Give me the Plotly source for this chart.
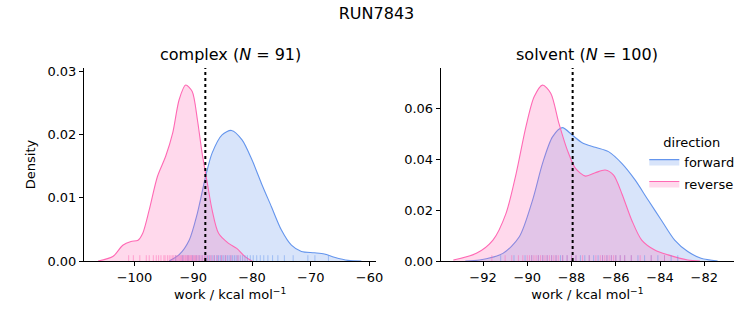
import plotly.graph_objects as go

# ---------------- data ----------------
directions = ["forward", "reverse"]
colors = {"forward": "#6495ED", "reverse": "#FF69B4"}
fills = {"forward": "rgba(100,149,237,0.25)", "reverse": "rgba(255,105,180,0.25)"}

# KDE curves (work in kcal/mol, density)
complex_fwd_x = [-94.1, -92.4, -90.7, -89.3, -87.9, -86.8, -85.1, -83.5, -81.7, -80.0, -78.4, -76.7,
                 -75.0, -73.3, -71.6, -69.4, -67.7, -66.0, -63.7, -61.4]
complex_fwd_d = [0.0, 0.001, 0.0033, 0.0076, 0.0134, 0.0171, 0.0200, 0.0207, 0.0192, 0.0160, 0.0123, 0.0086,
                 0.0049, 0.0025, 0.0015, 0.0013, 0.0011, 0.0006, 0.0001, 0.0]
complex_rev_x = [-106.2, -103.7, -102.0, -100.6, -99.4, -98.6, -97.5, -96.1, -94.7, -93.5, -92.4, -91.3,
                 -90.2, -89.3, -88.5, -87.6, -86.8, -85.7, -84.0, -82.6, -81.2, -80.0]
complex_rev_d = [0.0, 0.0007, 0.0025, 0.0031, 0.0033, 0.0044, 0.0081, 0.0134, 0.0166, 0.0203, 0.0256, 0.0279,
                 0.0269, 0.0224, 0.0171, 0.0123, 0.0081, 0.0044, 0.0028, 0.0020, 0.0007, 0.0]

solvent_fwd_x = [-92.8, -92.15, -91.1, -90.36, -89.76, -89.31, -88.86, -88.42, -87.97, -87.52, -86.93, -86.33,
                 -85.73, -85.13, -84.54, -83.94, -83.34, -82.75, -82.15, -81.4]
solvent_fwd_d = [0.0, 0.0004, 0.0030, 0.0095, 0.0239, 0.0383, 0.0487, 0.0523, 0.0494, 0.0464, 0.0446, 0.0429,
                 0.0383, 0.0318, 0.0239, 0.0160, 0.0082, 0.0037, 0.0011, 0.0]
solvent_rev_x = [-93.34, -92.3, -91.55, -90.96, -90.5, -90.06, -89.69, -89.31, -88.94, -88.57, -88.19, -87.82,
                 -87.37, -86.93, -86.48, -86.1, -85.73, -85.28, -84.83, -84.24, -83.64, -82.75, -82.2]
solvent_rev_d = [0.0004, 0.0030, 0.0082, 0.0187, 0.0344, 0.0527, 0.0644, 0.0690, 0.0658, 0.0540, 0.0435, 0.0363,
                 0.0333, 0.0346, 0.0357, 0.0337, 0.0265, 0.0160, 0.0082, 0.0043, 0.0024, 0.0004, 0.0]

# individual work values (rug)
complex_fwd_w = [-93.0, -91.8, -90.9, -90.1, -89.5, -89.0, -88.5, -88.0, -87.6, -87.2, -86.8, -86.4, -86.0,
                 -85.7, -85.4, -85.1, -84.8, -84.5, -84.2, -83.9, -83.6, -83.3, -83.0, -82.7, -82.4, -82.0,
                 -81.6, -81.2, -80.8, -80.3, -79.8, -79.2, -78.6, -78.0, -77.3, -76.5, -75.6, -74.5, -73.0,
                 -70.5, -69.3, -67.0]
complex_rev_w = [-101.0, -100.2, -99.1, -98.0, -97.5, -96.8, -96.3, -95.9, -95.5, -95.0, -94.8, -94.4, -94.1,
                 -93.8, -93.5, -93.3, -93.0, -92.8, -92.6, -92.4, -92.2, -92.0, -91.9, -91.7, -91.6, -91.4,
                 -91.3, -91.2, -91.0, -90.9, -90.8, -90.6, -90.5, -90.3, -90.2, -90.0, -89.8, -89.6, -89.4,
                 -89.2, -89.0, -88.7, -88.4, -88.1, -87.8, -87.4, -87.0, -86.5, -85.9, -85.2, -84.5, -83.6, -82.4]
solvent_fwd_w = [-91.2, -90.6, -90.1, -89.8, -89.5, -89.3, -89.1, -88.9, -88.7, -88.5, -88.4, -88.2, -88.0,
                 -87.8, -87.6, -87.4, -87.2, -87.0, -86.8, -86.6, -86.4, -86.2, -86.0, -85.8, -85.6, -85.3,
                 -85.0, -84.7, -84.4, -84.1, -83.8, -83.5, -83.2]
solvent_rev_w = [-91.6, -91.0, -90.7, -90.4, -90.2, -90.0, -89.9, -89.8, -89.7, -89.6, -89.5, -89.4, -89.3,
                 -89.2, -89.1, -89.0, -88.9, -88.8, -88.7, -88.6, -88.4, -88.2, -88.0, -87.8, -87.5, -87.2,
                 -86.9, -86.7, -86.6, -86.5, -86.4, -86.3, -86.2, -86.1, -86.0, -85.8, -85.6, -85.3, -84.9,
                 -84.4, -83.8]

estimate = -87.95
complex_n = 91
solvent_n = 100

complex_xrange = [-108.6, -58.85]
complex_yrange = [0, 0.0306]
solvent_xrange = [-93.91, -80.66]
solvent_yrange = [0, 0.0757]

panels = [
    {"name": "complex", "n": complex_n, "x": "x", "y": "y", "ymax": complex_yrange[1],
     "kde": {"forward": (complex_fwd_x, complex_fwd_d), "reverse": (complex_rev_x, complex_rev_d)},
     "rug": {"forward": complex_fwd_w, "reverse": complex_rev_w}},
    {"name": "solvent", "n": solvent_n, "x": "x2", "y": "y2", "ymax": solvent_yrange[1],
     "kde": {"forward": (solvent_fwd_x, solvent_fwd_d), "reverse": (solvent_rev_x, solvent_rev_d)},
     "rug": {"forward": solvent_fwd_w, "reverse": solvent_rev_w}},
]

RUG_FRAC = 0.03
fig = go.Figure()
for i, p in enumerate(panels):
    for d in directions:
        xs, ds = p["kde"][d]
        fig.add_trace(go.Scatter(
            x=xs, y=ds, xaxis=p["x"], yaxis=p["y"], mode="lines",
            line=dict(color=colors[d], width=1.1, shape="spline", smoothing=0.8),
            fill="tozeroy", fillcolor=fills[d], name=d, legendgroup=d,
            showlegend=(i == 1), hoverinfo="skip"))
    for d in directions:
        rx, ry = [], []
        for w in p["rug"][d]:
            rx += [w, w, None]
            ry += [0, RUG_FRAC * p["ymax"], None]
        fig.add_trace(go.Scatter(
            x=rx, y=ry, xaxis=p["x"], yaxis=p["y"], mode="lines",
            line=dict(color=colors[d], width=1), opacity=0.5,
            showlegend=False, hoverinfo="skip"))
    fig.add_shape(type="line", xref=p["x"], yref=p["y"] + " domain",
                  x0=estimate, x1=estimate, y0=0, y1=1,
                  line=dict(color="black", width=2, dash="dot"))

axis_common = dict(showgrid=False, zeroline=False, showline=True, linecolor="black", linewidth=1,
                   ticks="outside", ticklen=4, tickwidth=1, tickcolor="black",
                   tickfont=dict(size=13, color="black"), mirror=False)
xt = dict(text="work / kcal mol<sup>−1</sup>", font=dict(size=13, color="black"), standoff=6)

fig.update_layout(
    width=753, height=325,
    margin=dict(l=84, r=13, t=68, b=64),
    plot_bgcolor="white", paper_bgcolor="white",
    font=dict(family="DejaVu Sans", color="black", size=13),
    title=dict(text="RUN7843", x=0.5, xanchor="center", y=1 - 13 / 325, yref="container",
               yanchor="middle", font=dict(size=16)),
    xaxis=dict(domain=[0, 0.4497], range=complex_xrange, dtick=10, title=xt, **axis_common),
    yaxis=dict(domain=[0, 1], range=complex_yrange, dtick=0.01, tickformat=".2f",
               title=dict(text="Density", font=dict(size=13), standoff=8), **axis_common),
    xaxis2=dict(domain=[0.5488, 1], range=solvent_xrange, dtick=2, title=xt, **axis_common),
    yaxis2=dict(anchor="x2", domain=[0, 1], range=solvent_yrange, dtick=0.02, tickformat=".2f", **axis_common),
    legend=dict(title=dict(text="direction", side="top center", font=dict(size=13)),
                x=0.862, y=0.68, xanchor="left", yanchor="top",
                bgcolor="rgba(0,0,0,0)", font=dict(size=13), itemwidth=30, tracegroupgap=2),
    annotations=[
        dict(text="complex (<i>N</i> = %d)" % complex_n, x=0.4497 / 2, y=1.0725, xref="paper", yref="paper",
             showarrow=False, font=dict(size=16), xanchor="center", yanchor="middle"),
        dict(text="solvent (<i>N</i> = %d)" % solvent_n, x=(0.5488 + 1) / 2, y=1.0725, xref="paper", yref="paper",
             showarrow=False, font=dict(size=16), xanchor="center", yanchor="middle"),
    ],
)
fig.write_html("out.html")
